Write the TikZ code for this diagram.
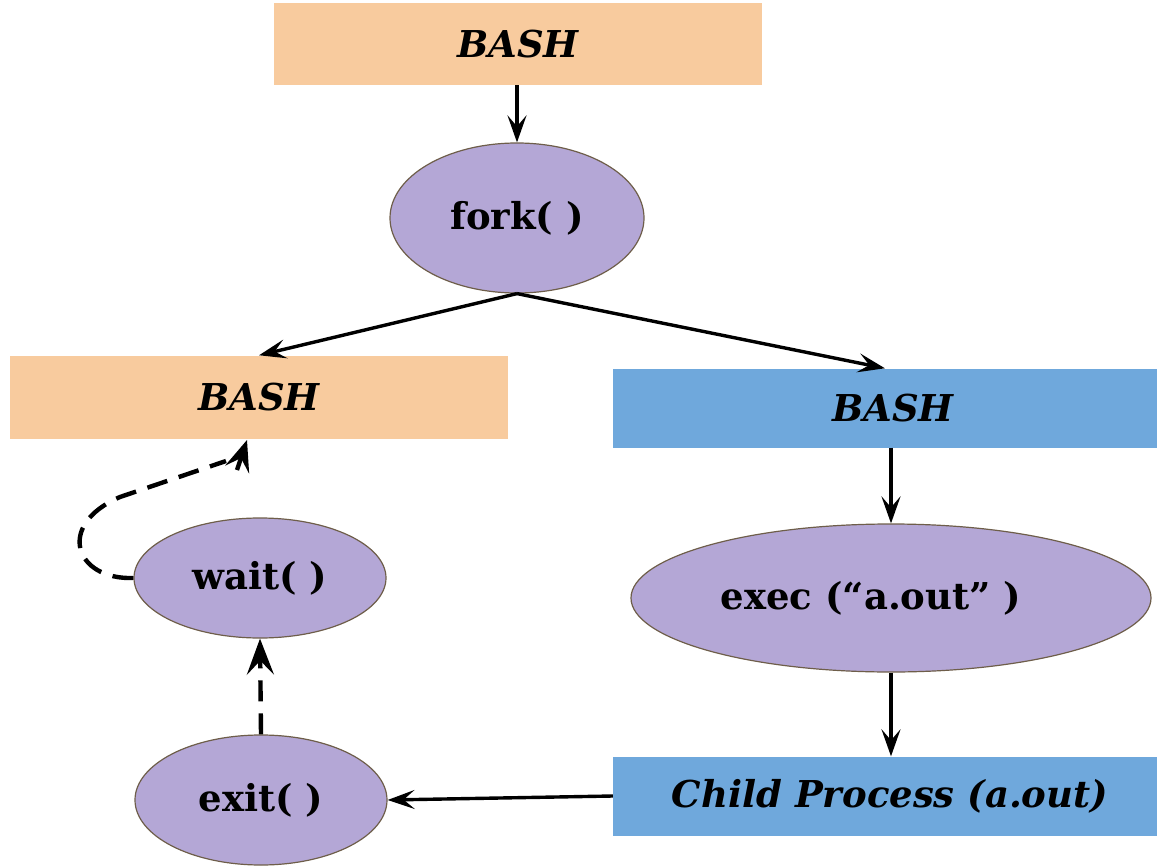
\documentclass[tikz,border=0pt]{standalone}
\usepackage{fontspec}
\setmainfont{DejaVu Serif}
\usetikzlibrary{arrows.meta,shapes.geometric}
\definecolor{orangebox}{HTML}{F8CB9E}
\definecolor{bluebox}{HTML}{6FA8DC}
\definecolor{purplefill}{HTML}{B4A7D6}
\definecolor{ellborder}{HTML}{6E5E4A}
\tikzset{
  orbox/.style={rectangle,fill=orangebox,inner sep=0,font=\fontsize{37}{44}\selectfont\bfseries\itshape},
  blbox/.style={rectangle,fill=bluebox,inner sep=0,font=\fontsize{37}{44}\selectfont\bfseries\itshape},
  ell/.style={ellipse,fill=purplefill,draw=ellborder,line width=1.2pt,inner sep=0,font=\fontsize{37}{44}\selectfont\bfseries},
  arr/.style={-{Stealth[length=27pt,width=19pt,inset=11pt]},line width=3.4pt},
  dline/.style={line width=4.4pt,dash pattern=on 21pt off 12pt},
  darr/.style={dline,-{Stealth[length=36pt,width=27pt,inset=14pt]}},
  dtip/.style={-{Stealth[length=31pt,width=25pt,inset=12pt]},line width=4.4pt}
}
\begin{document}
\begin{tikzpicture}[x=1pt,y=-1pt]
\useasboundingbox (0,0) rectangle (1157,867);
\node[orbox,minimum width=488pt,minimum height=82pt] (tb) at (518,44) {BASH};
\node[ell,minimum width=254pt,minimum height=150pt] (fork) at (517,218) {fork( )};
\node[orbox,minimum width=498pt,minimum height=83pt] (lb) at (259,397) {BASH};
\node[blbox,minimum width=544pt,minimum height=79pt] (rb) at (885,408) {\hspace*{16pt}BASH};
\node[ell,minimum width=520pt,minimum height=148pt] (exec) at (891,598) {exec (“a.out” )\hspace*{40pt}};
\node[blbox,minimum width=544pt,minimum height=79pt] (cp) at (885,796) {\hspace*{10pt}Child Process (a.out)};
\node[ell,minimum width=252pt,minimum height=120pt] (wait) at (260,578) {wait( )};
\node[ell,minimum width=252pt,minimum height=130pt] (exit) at (261,800) {exit( )};
\coordinate (wt) at (247,440);
\coordinate (mid) at (120,497);
\coordinate (bend) at (226,461);
\coordinate (tipbase) at (237,470);
\draw[arr] (tb.south -| fork.north) -- (fork.north);
\draw[arr] (fork.south) -- (lb.north);
\draw[arr] (fork.south) -- (rb.north);
\draw[arr] (rb.south -| exec.north) -- (exec.north);
\draw[arr] (exec.south) -- (exec.south |- cp.north);
\draw[arr] (cp.west) -- (exit.east);
\draw[darr] (exit.north) -- (wait.south);
\draw[dline] (wait.west) .. controls (75,580) and (55,525) .. (mid) -- (bend);
\draw[dtip] (tipbase) -- (wt);
\end{tikzpicture}
\end{document}
